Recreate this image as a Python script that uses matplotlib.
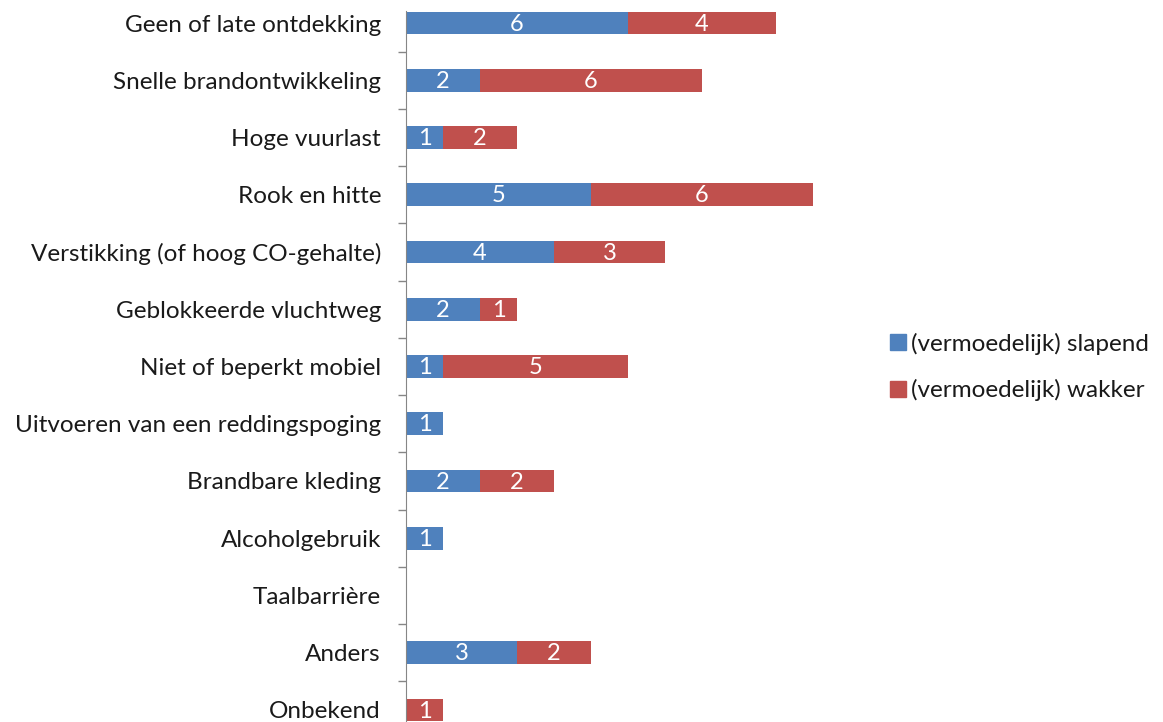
import matplotlib
matplotlib.use('Agg')
import matplotlib.pyplot as plt
from matplotlib.lines import Line2D

categories = ['Geen of late ontdekking', 'Snelle brandontwikkeling', 'Hoge vuurlast',
              'Rook en hitte', 'Verstikking (of hoog CO-gehalte)', 'Geblokkeerde vluchtweg',
              'Niet of beperkt mobiel', 'Uitvoeren van een reddingspoging', 'Brandbare kleding',
              'Alcoholgebruik', 'Taalbarrière', 'Anders', 'Onbekend']
slapend = [6, 2, 1, 5, 4, 2, 1, 1, 2, 1, 0, 3, 0]
wakker = [4, 6, 2, 6, 3, 1, 5, 0, 2, 0, 0, 2, 1]
series_names = ['(vermoedelijk) slapend', '(vermoedelijk) wakker']

blue = '#4F81BD'
red = '#C0504D'
txt = '#1a1a1a'
plt.rcParams['font.family'] = ['Lato', 'DejaVu Sans']

fig = plt.figure(figsize=(11.63, 7.22), dpi=100)
# axes placed in pixels: left 406, top 11, bottom 738.6 (cut off by figure)
W, H = 1163, 722
ax = fig.add_axes([406 / W, (H - 738.6) / H, 444 / W, 727.6 / H])

pos = list(range(len(categories)))
b1 = ax.barh(pos, slapend, height=0.4, color=blue)
b2 = ax.barh(pos, wakker, left=slapend, height=0.4, color=red)

for bars, vals in ((b1, slapend), (b2, wakker)):
    for bar, v in zip(bars, vals):
        if v > 0:
            ax.text(bar.get_x() + bar.get_width() / 2, bar.get_y() + bar.get_height() / 2 + 0.02,
                    str(v), ha='center', va='center', color='white', fontsize=17)

ax.set_xlim(0, 12)
ax.set_ylim(12.5, -0.21)
ax.set_yticks(pos)
ax.set_yticklabels(categories, fontsize=17.5, color=txt)
ax.set_yticks([p + 0.5 for p in pos], minor=True)
ax.tick_params(axis='y', which='major', length=0, pad=18)
ax.tick_params(axis='y', which='minor', length=6, color='#868686', width=1)
ax.set_xticks([])
for s in ['top', 'right', 'bottom']:
    ax.spines[s].set_visible(False)
ax.spines['left'].set_color('#868686')

handles = [Line2D([], [], marker='s', linestyle='none', markersize=11, color=c) for c in (blue, red)]
leg = fig.legend(handles, series_names, loc='center left', bbox_to_anchor=(862 / W, 1 - 367 / H),
                 frameon=False, fontsize=17.5, handletextpad=-0.1, labelspacing=1.0,
                 handlelength=1.2)
for t in leg.get_texts():
    t.set_color(txt)

fig.savefig('out.png', dpi=100)
